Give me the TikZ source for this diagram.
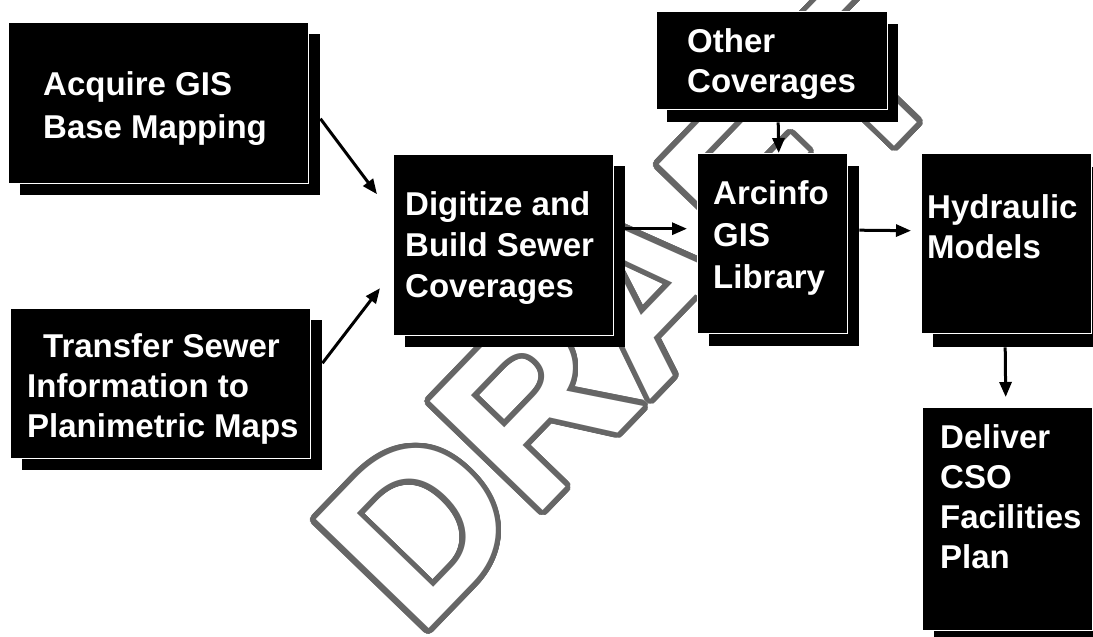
\documentclass[tikz,border=0pt]{standalone}
\usepackage{fontspec}
\setmainfont{Liberation Sans}
\usepackage{contour}
\usetikzlibrary{arrows.meta,calc}
\definecolor{wmgray}{gray}{0.40}
\contourlength{5.5pt}
\contournumber{48}
\newcommand{\boxfontsel}{\fontsize{33}{41}\selectfont\bfseries}
\tikzset{
  boxshadow/.style={fill=black, draw=none, inner sep=0pt, anchor=north west},
  boxmain/.style={fill=black, draw=white, line width=1.4pt, inner sep=0pt, anchor=north west},
  boxtext/.style={text=white, font=\boxfontsel, align=left, inner sep=0pt, anchor=north west},
  arr/.style={line width=3pt, -{Triangle[length=15pt,width=12pt]}},
}
\begin{document}
\begin{tikzpicture}[x=1pt,y=-1pt]
\useasboundingbox (0,0) rectangle (1093,637);
\clip (0,0) rectangle (1093,637);

% watermark behind everything
\node[rotate=46, anchor=base west, inner sep=0pt, text=white,
      font=\fontsize{228}{228}\selectfont\bfseries] (draft) at (418,640)
      {\contour{wmgray}{DRAFT}};

% shadows
\node[boxshadow, minimum width=300pt, minimum height=161pt] (acq-s) at (20,34) {};
\node[boxshadow, minimum width=300pt, minimum height=150pt] (trn-s) at (22,320) {};
\node[boxshadow, minimum width=220pt, minimum height=181pt] (dig-s) at (405,166) {};
\node[boxshadow, minimum width=231pt, minimum height=98pt]  (oth-s) at (667,24) {};
\node[boxshadow, minimum width=150pt, minimum height=180pt] (arc-s) at (709,166) {};
\node[boxshadow, minimum width=170pt, minimum height=180pt] (hyd-s) at (933,167) {};
\node[boxshadow, minimum width=170pt, minimum height=223pt] (del-s) at (934,419) {};

% boxes
\node[boxmain, minimum width=300pt, minimum height=161pt] (acq) at (8,22) {};
\node[boxmain, minimum width=300pt, minimum height=150pt] (trn) at (10,308) {};
\node[boxmain, minimum width=220pt, minimum height=181pt] (dig) at (393,154) {};
\node[boxmain, minimum width=231pt, minimum height=98pt]  (oth) at (656,11) {};
\node[boxmain, minimum width=150pt, minimum height=180pt] (arc) at (697,153) {};
\node[boxmain, minimum width=170pt, minimum height=180pt] (hyd) at (921,153) {};
\node[boxmain, minimum width=170pt, minimum height=223pt] (del) at (922,407) {};

% box labels
\node[boxtext, font=\fontsize{33}{43}\selectfont\bfseries] (acq-t) at (43,71) {Acquire GIS\\Base Mapping};
\node[boxtext, font=\fontsize{33}{40}\selectfont\bfseries] (trn-t) at (27,333) {\hspace*{16pt}Transfer Sewer\\Information to\\Planimetric Maps};
\node[boxtext] (dig-t) at (405,191) {Digitize and\\Build Sewer\\Coverages};
\node[boxtext, font=\fontsize{33}{40}\selectfont\bfseries] (oth-t) at (687,28) {Other\\Coverages};
\node[boxtext, font=\fontsize{33}{42}\selectfont\bfseries] (arc-t) at (713,180) {Arcinfo\\GIS\\Library};
\node[boxtext, font=\fontsize{33}{40}\selectfont\bfseries] (hyd-t) at (927,194) {Hydraulic\\Models};
\node[boxtext, font=\fontsize{33}{40}\selectfont\bfseries] (del-t) at (940,424) {Deliver\\CSO\\Facilities\\Plan};

% end points of the connectors
\coordinate (acq-o) at ($(acq-s.east)+(0,4)$);
\coordinate (dig-i1) at ($(dig.west)+(-16,-51)$);
\coordinate (trn-o) at ($(trn-s.east)+(0,-32)$);
\coordinate (dig-i2) at ($(dig.west)+(-13,43)$);
\coordinate (dig-o) at ($(dig-s.east)+(0,-28)$);
\coordinate (arc-i) at ($(arc.west)+(-10,-15)$);
\coordinate (oth-o) at ($(oth-s.south)+(-4.5,0)$);
\coordinate (arc-t-i) at ($(arc.north)+(6,0)$);
\coordinate (arc-o) at ($(arc-s.east)+(0,-26)$);
\coordinate (hyd-i) at ($(hyd.west)+(-10,-13)$);
\coordinate (hyd-o) at ($(hyd-s.south)+(-13,0)$);
\coordinate (del-i) at ($(del.north)+(-2,-10)$);

% connectors
\draw[arr] (acq-o) -- (dig-i1);
\draw[arr] (trn-o) -- (dig-i2);
\draw[arr] (dig-o) -- (arc-i);
\draw[arr] (oth-o) -- (arc-t-i);
\draw[arr] (arc-o) -- (hyd-i);
\draw[arr] (hyd-o) -- (del-i);
\end{tikzpicture}
\end{document}
